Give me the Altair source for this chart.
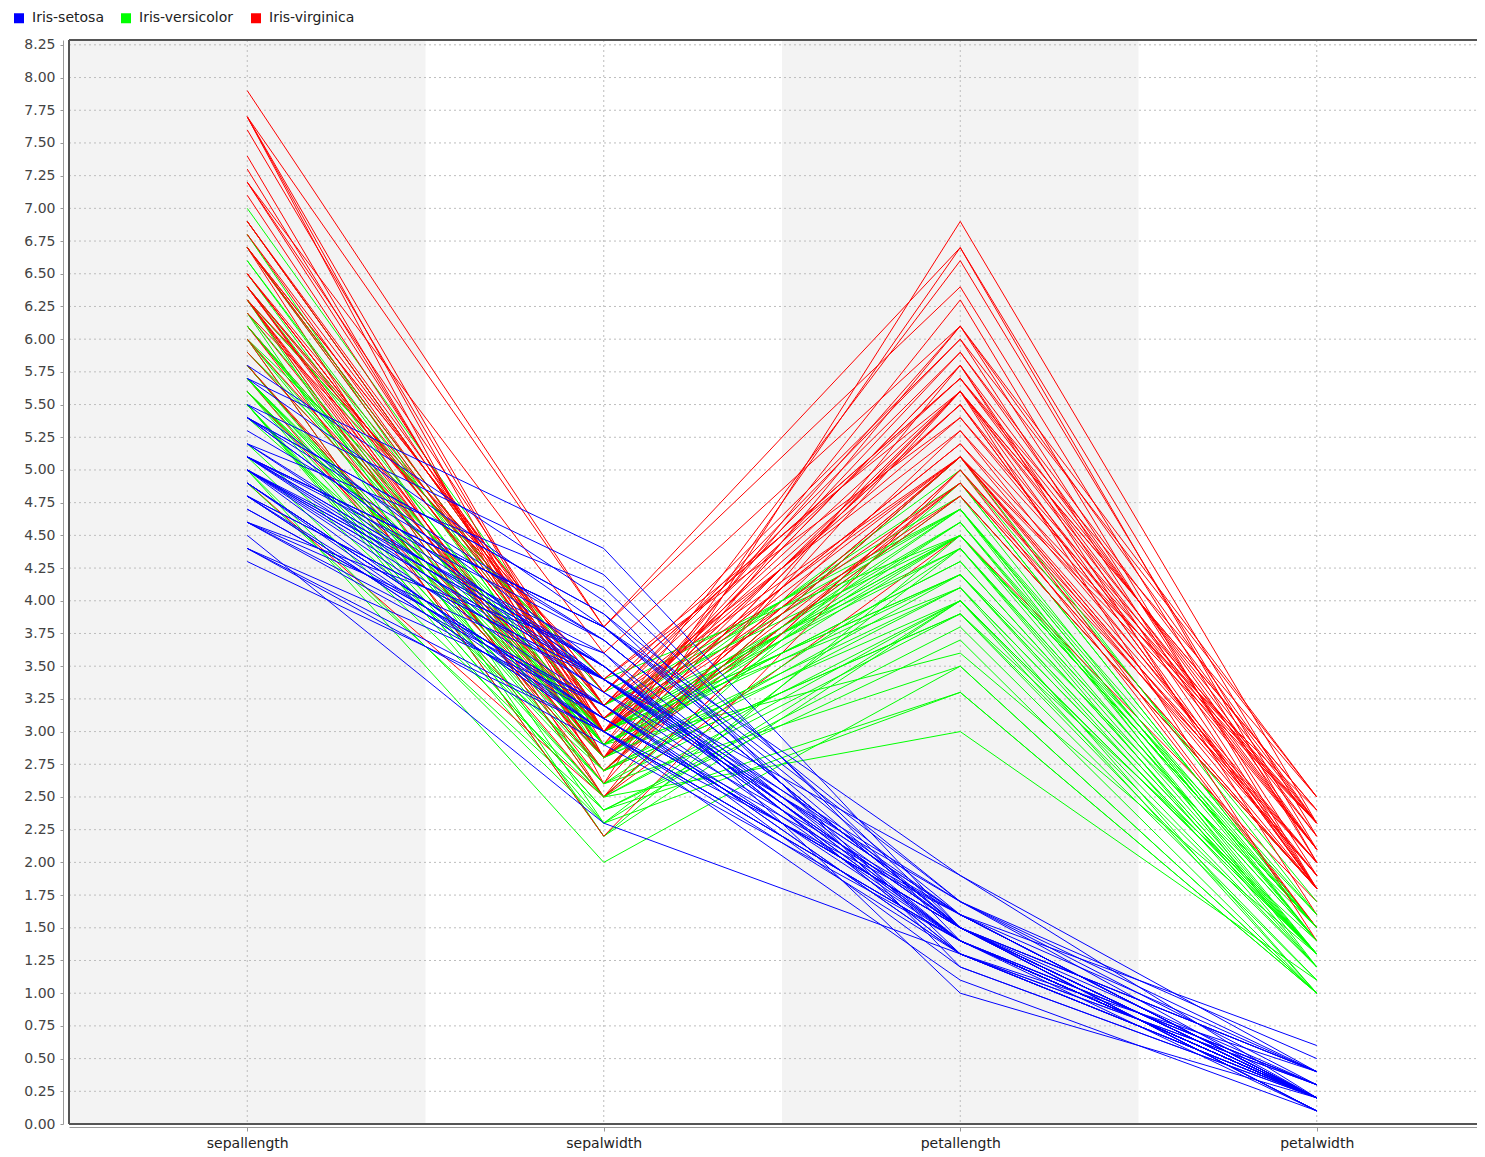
import json
import altair as alt
import pandas as pd

# ---------------- data (Iris data set, as plotted) ----------------
dims = ["sepallength", "sepalwidth", "petallength", "petalwidth"]
classes = ["Iris-setosa", "Iris-versicolor", "Iris-virginica"]
class_colors = ["#0000ff", "#00ff00", "#ff0000"]

sepallength = [
    5.1, 4.9, 4.7, 4.6, 5.0, 5.4, 4.6, 5.0, 4.4, 4.9, 5.4, 4.8, 4.8, 4.3, 5.8, 5.7, 5.4, 5.1, 5.7, 5.1,
    5.4, 5.1, 4.6, 5.1, 4.8, 5.0, 5.0, 5.2, 5.2, 4.7, 4.8, 5.4, 5.2, 5.5, 4.9, 5.0, 5.5, 4.9, 4.4, 5.1,
    5.0, 4.5, 4.4, 5.0, 5.1, 4.8, 5.1, 4.6, 5.3, 5.0,
    7.0, 6.4, 6.9, 5.5, 6.5, 5.7, 6.3, 4.9, 6.6, 5.2, 5.0, 5.9, 6.0, 6.1, 5.6, 6.7, 5.6, 5.8, 6.2, 5.6,
    5.9, 6.1, 6.3, 6.1, 6.4, 6.6, 6.8, 6.7, 6.0, 5.7, 5.5, 5.5, 5.8, 6.0, 5.4, 6.0, 6.7, 6.3, 5.6, 5.5,
    5.5, 6.1, 5.8, 5.0, 5.6, 5.7, 5.7, 6.2, 5.1, 5.7,
    6.3, 5.8, 7.1, 6.3, 6.5, 7.6, 4.9, 7.3, 6.7, 7.2, 6.5, 6.4, 6.8, 5.7, 5.8, 6.4, 6.5, 7.7, 7.7, 6.0,
    6.9, 5.6, 7.7, 6.3, 6.7, 7.2, 6.2, 6.1, 6.4, 7.2, 7.4, 7.9, 6.4, 6.3, 6.1, 7.7, 6.3, 6.4, 6.0, 6.9,
    6.7, 6.9, 5.8, 6.8, 6.7, 6.7, 6.3, 6.5, 6.2, 5.9,
]
sepalwidth = [
    3.5, 3.0, 3.2, 3.1, 3.6, 3.9, 3.4, 3.4, 2.9, 3.1, 3.7, 3.4, 3.0, 3.0, 4.0, 4.4, 3.9, 3.5, 3.8, 3.8,
    3.4, 3.7, 3.6, 3.3, 3.4, 3.0, 3.4, 3.5, 3.4, 3.2, 3.1, 3.4, 4.1, 4.2, 3.1, 3.2, 3.5, 3.1, 3.0, 3.4,
    3.5, 2.3, 3.2, 3.5, 3.8, 3.0, 3.8, 3.2, 3.7, 3.3,
    3.2, 3.2, 3.1, 2.3, 2.8, 2.8, 3.3, 2.4, 2.9, 2.7, 2.0, 3.0, 2.2, 2.9, 2.9, 3.1, 3.0, 2.7, 2.2, 2.5,
    3.2, 2.8, 2.5, 2.8, 2.9, 3.0, 2.8, 3.0, 2.9, 2.6, 2.4, 2.4, 2.7, 2.7, 3.0, 3.4, 3.1, 2.3, 3.0, 2.5,
    2.6, 3.0, 2.6, 2.3, 2.7, 3.0, 2.9, 2.9, 2.5, 2.8,
    3.3, 2.7, 3.0, 2.9, 3.0, 3.0, 2.5, 2.9, 2.5, 3.6, 3.2, 2.7, 3.0, 2.5, 2.8, 3.2, 3.0, 3.8, 2.6, 2.2,
    3.2, 2.8, 2.8, 2.7, 3.3, 3.2, 2.8, 3.0, 2.8, 3.0, 2.8, 3.8, 2.8, 2.8, 2.6, 3.0, 3.4, 3.1, 3.0, 3.1,
    3.1, 3.1, 2.7, 3.2, 3.3, 3.0, 2.5, 3.0, 3.4, 3.0,
]
petallength = [
    1.4, 1.4, 1.3, 1.5, 1.4, 1.7, 1.4, 1.5, 1.4, 1.5, 1.5, 1.6, 1.4, 1.1, 1.2, 1.5, 1.3, 1.4, 1.7, 1.5,
    1.7, 1.5, 1.0, 1.7, 1.9, 1.6, 1.6, 1.5, 1.4, 1.6, 1.6, 1.5, 1.5, 1.4, 1.5, 1.2, 1.3, 1.5, 1.3, 1.5,
    1.3, 1.3, 1.3, 1.6, 1.9, 1.4, 1.6, 1.4, 1.5, 1.4,
    4.7, 4.5, 4.9, 4.0, 4.6, 4.5, 4.7, 3.3, 4.6, 3.9, 3.5, 4.2, 4.0, 4.7, 3.6, 4.4, 4.5, 4.1, 4.5, 3.9,
    4.8, 4.0, 4.9, 4.7, 4.3, 4.4, 4.8, 5.0, 4.5, 3.5, 3.8, 3.7, 3.9, 5.1, 4.5, 4.5, 4.7, 4.4, 4.1, 4.0,
    4.4, 4.6, 4.0, 3.3, 4.2, 4.2, 4.2, 4.3, 3.0, 4.1,
    6.0, 5.1, 5.9, 5.6, 5.8, 6.6, 4.5, 6.3, 5.8, 6.1, 5.1, 5.3, 5.5, 5.0, 5.1, 5.3, 5.5, 6.7, 6.9, 5.0,
    5.7, 4.9, 6.7, 4.9, 5.7, 6.0, 4.8, 4.9, 5.6, 5.8, 6.1, 6.4, 5.6, 5.1, 5.6, 6.1, 5.6, 5.5, 4.8, 5.4,
    5.6, 5.1, 5.1, 5.9, 5.7, 5.2, 5.0, 5.2, 5.4, 5.1,
]
petalwidth = [
    0.2, 0.2, 0.2, 0.2, 0.2, 0.4, 0.3, 0.2, 0.2, 0.1, 0.2, 0.2, 0.1, 0.1, 0.2, 0.4, 0.4, 0.3, 0.3, 0.3,
    0.2, 0.4, 0.2, 0.5, 0.2, 0.2, 0.4, 0.2, 0.2, 0.2, 0.2, 0.4, 0.1, 0.2, 0.1, 0.2, 0.2, 0.1, 0.2, 0.2,
    0.3, 0.3, 0.2, 0.6, 0.4, 0.3, 0.2, 0.2, 0.2, 0.2,
    1.4, 1.5, 1.5, 1.3, 1.5, 1.3, 1.6, 1.0, 1.3, 1.4, 1.0, 1.5, 1.0, 1.4, 1.3, 1.4, 1.5, 1.0, 1.5, 1.1,
    1.8, 1.3, 1.5, 1.2, 1.3, 1.4, 1.4, 1.7, 1.5, 1.0, 1.1, 1.0, 1.2, 1.6, 1.5, 1.6, 1.5, 1.3, 1.3, 1.3,
    1.2, 1.4, 1.2, 1.0, 1.3, 1.2, 1.3, 1.3, 1.1, 1.3,
    2.5, 1.9, 2.1, 1.8, 2.2, 2.1, 1.7, 1.8, 1.8, 2.5, 2.0, 1.9, 2.1, 2.0, 2.4, 2.3, 1.8, 2.2, 2.3, 1.5,
    2.3, 2.0, 2.0, 1.8, 2.1, 1.8, 1.8, 1.8, 2.1, 1.6, 1.9, 2.0, 2.2, 1.5, 1.4, 2.3, 2.4, 1.8, 1.8, 2.1,
    2.4, 2.3, 1.9, 2.3, 2.5, 2.3, 1.9, 2.0, 2.3, 1.8,
]
species = ["Iris-setosa"] * 50 + ["Iris-versicolor"] * 50 + ["Iris-virginica"] * 50

y_ticks = [0.0, 0.25, 0.5, 0.75, 1.0, 1.25, 1.5, 1.75, 2.0, 2.25, 2.5, 2.75, 3.0, 3.25, 3.5,
           3.75, 4.0, 4.25, 4.5, 4.75, 5.0, 5.25, 5.5, 5.75, 6.0, 6.25, 6.5, 6.75, 7.0, 7.25,
           7.5, 7.75, 8.0, 8.25]

# ---------------- tables ----------------
cols = {"sepallength": sepallength, "sepalwidth": sepalwidth,
        "petallength": petallength, "petalwidth": petalwidth}

# drawing order: versicolor / virginica interleaved, setosa on top
order = []
for k in range(50):
    order.append(50 + k)
    order.append(100 + k)
order += list(range(50))

rows = []
for i in order:
    for j, d in enumerate(dims):
        rows.append({"id": i, "species": species[i], "dim": d, "pos": j + 0.5,
                     "value": cols[d][i]})
df = pd.DataFrame(rows)

bands = pd.DataFrame({"start": [0, 2], "end": [1, 3]})
vgrid = pd.DataFrame({"pos": [j + 0.5 for j in range(len(dims))]})
hgrid = pd.DataFrame({"tick": y_ticks})

# ---------------- layout ----------------
W, H = 1408, 1084
BAND_PX = 356.5
XMAX = W / BAND_PX
YMAX = 8.287
FONT = "DejaVu Sans"

xs = alt.Scale(domain=[0, XMAX], nice=False, zero=False)
ys = alt.Scale(domain=[0, YMAX], nice=False, zero=False)

label_expr = json.dumps(dims) + "[floor(datum.value)]"
xaxis = alt.Axis(values=[j + 0.5 for j in range(len(dims))], labelExpr=label_expr,
                 title=None, grid=False, offset=3, tickSize=4, tickColor="#999999",
                 domainColor="#9a9a9a", labelFont=FONT, labelFontSize=14,
                 labelColor="#222222", labelPadding=5)
yaxis = alt.Axis(values=y_ticks, format=".2f", title=None, grid=False, offset=6,
                 tickSize=3, tickColor="#999999", domainColor="#9a9a9a",
                 labelFont=FONT, labelFontSize=14, labelColor="#444444",
                 labelPadding=5)

grid_color = "#bdbdbd"

band_layer = alt.Chart(bands).mark_rect(color="#f3f3f3").encode(
    x=alt.X("start:Q", scale=xs, axis=xaxis),
    x2="end:Q",
    y=alt.value(0),
    y2=alt.value(H),
)

hgrid_layer = alt.Chart(hgrid).mark_rule(color=grid_color, strokeDash=[2, 3], strokeWidth=1).encode(
    y=alt.Y("tick:Q", scale=ys, axis=yaxis),
    x=alt.value(0),
    x2=alt.value(W),
)

vgrid_layer = alt.Chart(vgrid).mark_rule(color=grid_color, strokeDash=[2, 3], strokeWidth=1).encode(
    x=alt.X("pos:Q", scale=xs, axis=xaxis),
    y=alt.value(0),
    y2=alt.value(H),
)

# legend squares: a small square with a thick stroke in the class colour -> solid 10px square
legend = alt.Legend(
    title=None, orient="none", legendX=-57, legendY=-29, direction="horizontal",
    symbolType="square", symbolSize=25, symbolStrokeWidth=5, symbolOpacity=1,
    labelFont=FONT, labelFontSize=14, labelColor="#222222", labelOffset=6,
    columnPadding=9,
)

line_layer = alt.Chart(df).mark_line(strokeWidth=1).encode(
    x=alt.X("pos:Q", scale=xs, axis=xaxis),
    y=alt.Y("value:Q", scale=ys, axis=yaxis),
    detail="id:N",
    color=alt.Color("species:N", scale=alt.Scale(domain=classes, range=class_colors),
                    legend=legend),
)

border_color = "#555555"
top_border = alt.Chart(vgrid).mark_rule(color=border_color, strokeWidth=2).encode(
    x=alt.value(0), x2=alt.value(W), y=alt.value(0))
left_border = alt.Chart(vgrid).mark_rule(color=border_color, strokeWidth=2).encode(
    x=alt.value(0), y=alt.value(0), y2=alt.value(H))
bottom_border = alt.Chart(vgrid).mark_rule(color=border_color, strokeWidth=2).encode(
    x=alt.value(0), x2=alt.value(W), y=alt.value(H))

chart = alt.layer(
    band_layer, hgrid_layer, vgrid_layer, line_layer,
    top_border, left_border, bottom_border
).properties(
    width=W, height=H,
    autosize=alt.AutoSizeParams(type="none"),
    padding={"left": 61, "top": 32, "right": 0, "bottom": 28},
).configure_view(stroke=None).configure(background="white")

chart.save("out.html", embed_options={"renderer": "svg", "actions": False})
